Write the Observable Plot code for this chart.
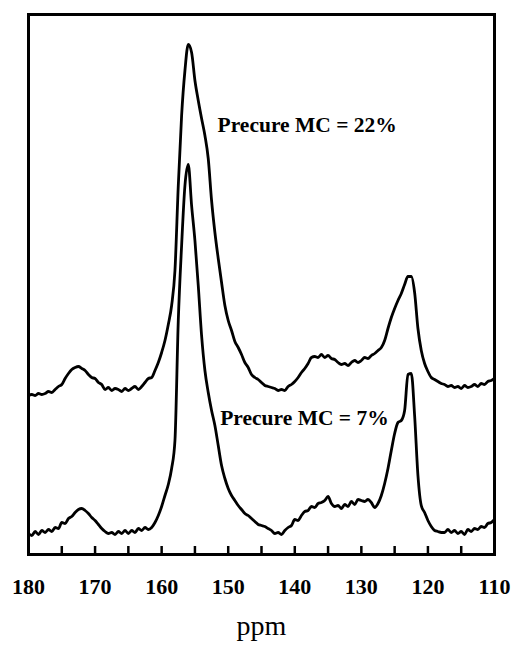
<!DOCTYPE html>
<html>
<head>
<meta charset="utf-8">
<script src="https://cdn.jsdelivr.net/npm/d3@7"></script>
<script src="https://cdn.jsdelivr.net/npm/@observablehq/plot@0.6"></script>
<style>
  html, body { margin: 0; padding: 0; background: #fff; }
  #chart svg { display: block; }
</style>
</head>
<body>
<div id="chart"></div>
<script>
// Chemical shift sampling grid (ppm), 180 -> 110 every 0.5 ppm
const shifts = d3.range(180, 109.9, -0.5);

// Spectrum, precure MC = 22% (upper trace), arbitrary intensity units
const mc22 = [
  159,160,159,161,160,161,163,162,165,168,
  170,176,181,185,187,188,186,184,180,177,
  176,172,170,165,167,164,166,165,163,166,
  164,166,168,165,168,172,176,177,184,192,
  202,214,230,249,284,369,439,484,510,502,
  474,454,436,419,396,354,322,296,272,249,
  234,224,213,207,200,192,187,180,177,175,
  172,169,168,167,166,164,165,164,168,170,
  173,177,182,186,191,197,198,197,200,197,
  199,196,195,192,190,191,189,192,194,192,
  194,197,196,199,201,204,207,214,226,237,
  246,254,261,270,278,278,262,226,204,191,
  183,177,175,173,171,170,168,169,167,168,
  166,169,167,168,170,168,171,170,173,174,
  176
];

// Spectrum, precure MC = 7% (lower trace), arbitrary intensity units
const mc7 = [
  21,19,23,20,24,22,25,23,27,26,
  32,31,36,38,42,45,46,44,41,37,
  34,30,26,23,21,22,20,23,21,24,
  21,24,22,26,24,27,25,27,32,39,
  48,59,70,86,114,234,309,369,390,349,
  314,269,219,184,162,144,129,109,89,76,
  66,59,54,49,45,41,39,36,33,30,
  29,28,26,24,21,22,20,24,27,29,
  35,34,39,43,44,48,47,51,52,54,
  58,51,48,49,46,50,48,53,50,55,
  54,53,55,52,47,51,59,71,86,104,
  121,132,134,144,180,181,139,79,49,42,
  34,28,24,23,22,22,25,22,24,21,
  23,20,25,23,26,25,28,27,31,32,
  35
];

// Axis ticks
const labelTicks = [180, 170, 160, 150, 140, 130, 120, 110];
const minorTicks = [175, 170, 165, 160, 155, 150, 145, 140, 135, 130, 125, 120, 115];

// Trace annotations
const annotations = ["Precure MC = 22%", "Precure MC = 7%"];
const annotationPpm = [151.6, 151.2];
const annotationIntensity = [429, 136];

const series22 = shifts.map((ppm, i) => ({ppm, intensity: mc22[i]}));
const series7 = shifts.map((ppm, i) => ({ppm, intensity: mc7[i]}));
const notes = annotations.map((t, i) => ({text: t, ppm: annotationPpm[i], intensity: annotationIntensity[i]}));

const chart = Plot.plot({
  width: 514,
  height: 647,
  marginLeft: 28,
  marginRight: 20,
  marginTop: 14,
  marginBottom: 93,
  style: {fontFamily: "'Liberation Serif', 'Times New Roman', serif", background: "#fff", color: "#000"},
  x: {domain: [180, 110]},
  y: {domain: [0, 540], axis: null},
  marks: [
    Plot.axisX({ticks: minorTicks, tickSize: -8, tickFormat: () => "", strokeWidth: 2.5, label: null}),
    Plot.axisX({ticks: labelTicks, tickSize: 0, tickPadding: 24, fontSize: 22, fontWeight: "bold", label: null, tickFormat: d => String(d)}),
    Plot.line(series22, {x: "ppm", y: "intensity", strokeWidth: 2.8, curve: "monotone-x"}),
    Plot.line(series7, {x: "ppm", y: "intensity", strokeWidth: 2.8, curve: "monotone-x"}),
    Plot.text(notes, {x: "ppm", y: "intensity", text: "text", textAnchor: "start", fontSize: 21.5, fontWeight: "bold"}),
    Plot.text(["ppm"], {frameAnchor: "bottom", dy: 72, fontSize: 28, lineAnchor: "middle"}),
    Plot.frame({strokeWidth: 3})
  ]
});
document.getElementById("chart").appendChild(chart);
</script>
</body>
</html>
